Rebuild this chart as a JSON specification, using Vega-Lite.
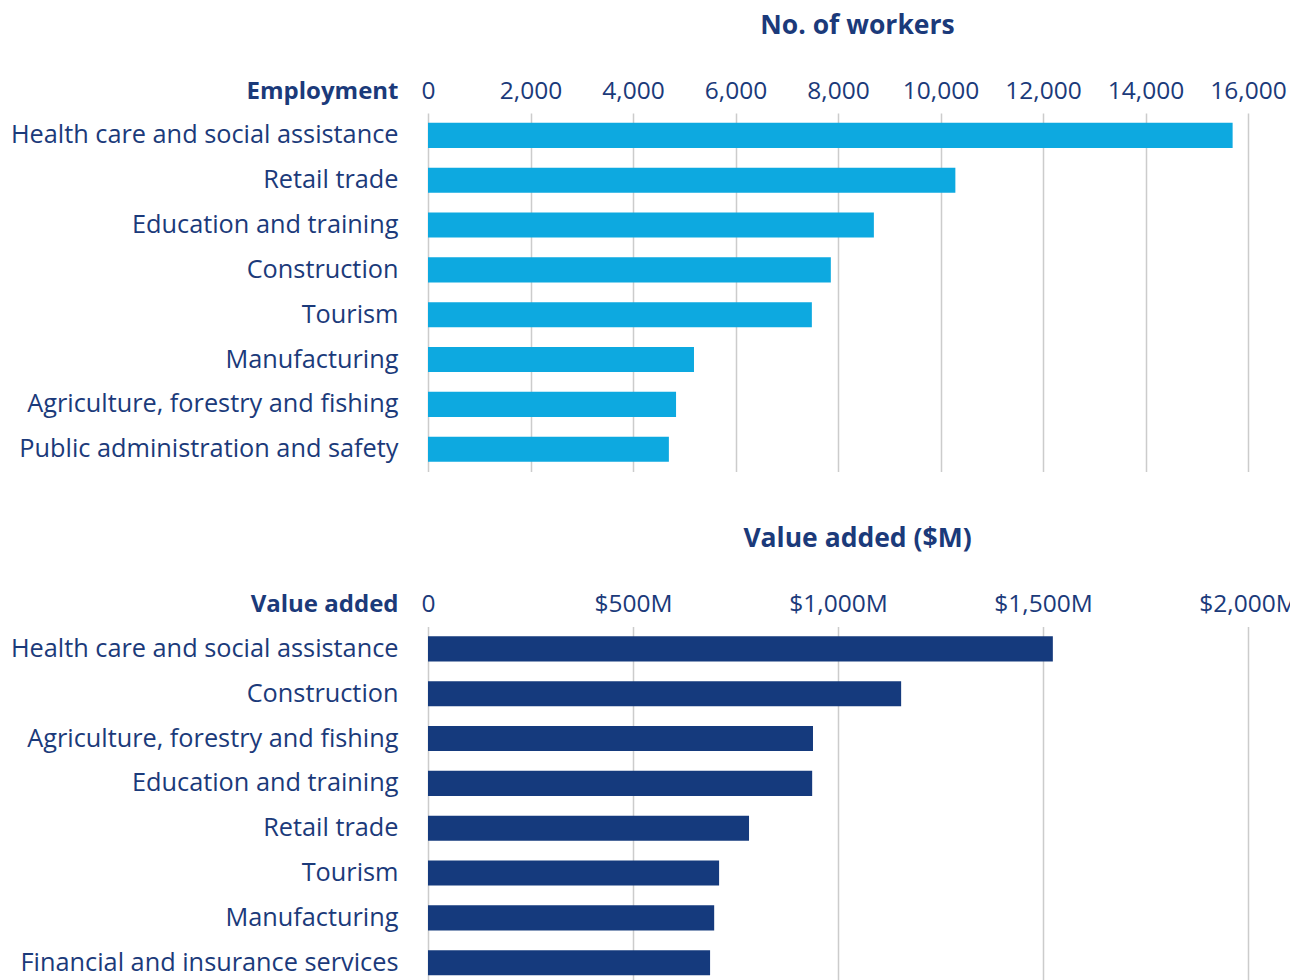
{
  "$schema": "https://vega.github.io/schema/vega-lite/v6.json",
  "padding": {"left": 0, "top": 12, "right": 0, "bottom": 0},
  "background": "white",
  "spacing": 53.5,
  "datasets": {
    "employment": [
      {"industry": "Health care and social assistance", "workers": 15700},
      {"industry": "Retail trade", "workers": 10290},
      {"industry": "Education and training", "workers": 8700},
      {"industry": "Construction", "workers": 7860},
      {"industry": "Tourism", "workers": 7490},
      {"industry": "Manufacturing", "workers": 5190},
      {"industry": "Agriculture, forestry and fishing", "workers": 4840},
      {"industry": "Public administration and safety", "workers": 4700}
    ],
    "valueadded": [
      {"industry": "Health care and social assistance", "value": 1524},
      {"industry": "Construction", "value": 1154},
      {"industry": "Agriculture, forestry and fishing", "value": 939},
      {"industry": "Education and training", "value": 937},
      {"industry": "Retail trade", "value": 783},
      {"industry": "Tourism", "value": 710},
      {"industry": "Manufacturing", "value": 698},
      {"industry": "Financial and insurance services", "value": 688}
    ]
  },
  "config": {
    "view": {"stroke": null},
    "font": "Open Sans",
    "axis": {
      "labelColor": "#1B3A7A",
      "titleColor": "#1B3A7A",
      "labelFontSize": 24.5,
      "titleFontWeight": "bold",
      "labelFont": "Open Sans",
      "titleFont": "Open Sans"
    }
  },
  "vconcat": [
    {
      "data": {"name": "employment"},
      "width": 820,
      "height": 358.6,
      "mark": {"type": "bar", "color": "#0DA9E0"},
      "encoding": {
        "y": {
          "field": "industry", "type": "nominal", "sort": null,
          "scale": {"paddingInner": 0.44, "paddingOuter": 0.22},
          "axis": {
            "title": "Employment", "titleAngle": 0, "titleAlign": "right",
            "titleBaseline": "alphabetic", "titleX": -30, "titleY": -14.6,
            "titleFontSize": 24, "labelFontSize": 25.3, "labelPadding": 30, "ticks": false, "tickSize": 0,
            "domain": false, "minExtent": 428, "labelLimit": 600, "grid": false
          }
        },
        "x": {
          "field": "workers", "type": "quantitative",
          "scale": {"domain": [0, 16000], "nice": false},
          "axis": {
            "orient": "top", "values": [0, 2000, 4000, 6000, 8000, 10000, 12000, 14000, 16000],
            "format": ",.0f", "title": "No. of workers", "titleX": 429, "titleY": -80,
            "titleBaseline": "alphabetic", "titleFontSize": 26.5,
            "labelBaseline": "alphabetic", "labelPadding": 14.6, "tickSize": 0, "ticks": false,
            "domain": false, "grid": true, "gridColor": "#cccccc", "gridWidth": 1.5,
            "labelFlush": false, "labelOverlap": false
          }
        }
      }
    },
    {
      "data": {"name": "valueadded"},
      "width": 820,
      "height": 358.6,
      "mark": {"type": "bar", "color": "#153A7D"},
      "encoding": {
        "y": {
          "field": "industry", "type": "nominal", "sort": null,
          "scale": {"paddingInner": 0.44, "paddingOuter": 0.22},
          "axis": {
            "title": "Value added", "titleAngle": 0, "titleAlign": "right",
            "titleBaseline": "alphabetic", "titleX": -30, "titleY": -14.6,
            "titleFontSize": 24, "labelFontSize": 25.3, "labelPadding": 30, "ticks": false, "tickSize": 0,
            "domain": false, "minExtent": 428, "labelLimit": 600, "grid": false
          }
        },
        "x": {
          "field": "value", "type": "quantitative",
          "scale": {"domain": [0, 2000], "nice": false},
          "axis": {
            "orient": "top", "values": [0, 500, 1000, 1500, 2000],
            "labelExpr": "datum.value == 0 ? '0' : '$' + format(datum.value, ',') + 'M'",
            "title": "Value added ($M)", "titleX": 429, "titleY": -80,
            "titleBaseline": "alphabetic", "titleFontSize": 26.5,
            "labelBaseline": "alphabetic", "labelPadding": 14.6, "tickSize": 0, "ticks": false,
            "domain": false, "grid": true, "gridColor": "#cccccc", "gridWidth": 1.5,
            "labelFlush": false, "labelOverlap": false
          }
        }
      }
    }
  ]
}
